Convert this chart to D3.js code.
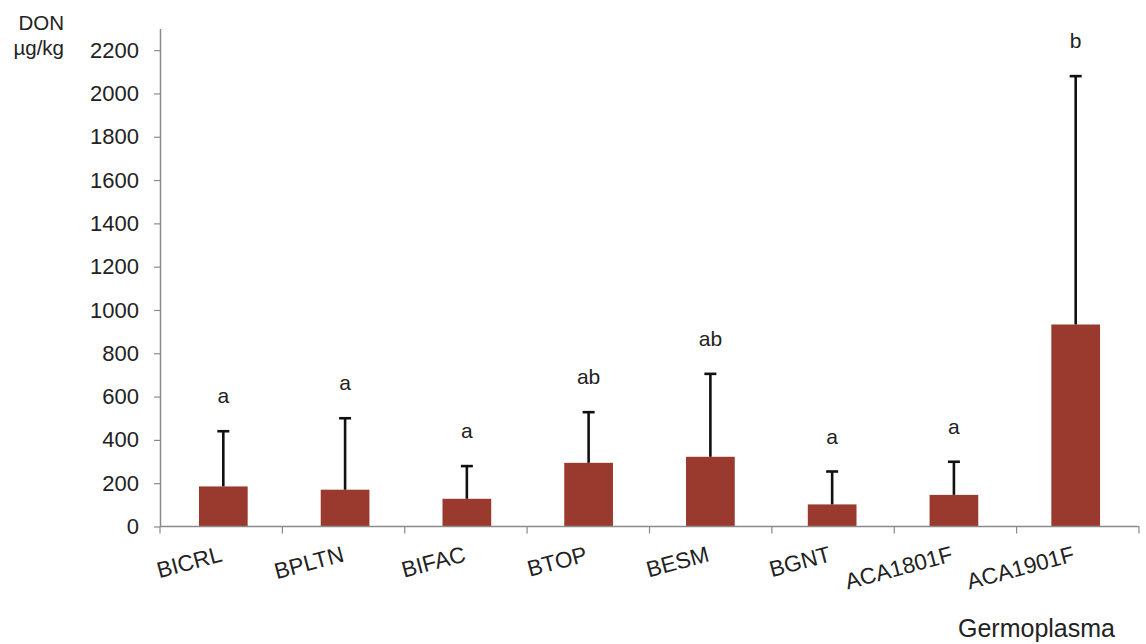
<!DOCTYPE html>
<html>
<head>
<meta charset="utf-8">
<script src="https://cdn.jsdelivr.net/npm/d3@7/dist/d3.min.js"></script>
<style>
  html, body { margin: 0; padding: 0; background: #fff; }
  svg text { font-family: "Liberation Sans", Arial, sans-serif; fill: #222; }
</style>
</head>
<body>
<svg id="chart" width="1146" height="644"></svg>
<script>
// DON content per germplasm line: mean, standard deviation and significance group
const categories = ["BICRL", "BPLTN", "BIFAC", "BTOP", "BESM", "BGNT", "ACA1801F", "ACA1901F"];
const means = [185, 170, 128, 294, 322, 102, 146, 933];
const deviations = [255, 330, 151, 234, 383, 152, 153, 1147];
const groups = ["a", "a", "a", "ab", "ab", "a", "a", "b"];
const yTicks = [0, 200, 400, 600, 800, 1000, 1200, 1400, 1600, 1800, 2000, 2200];

const svg = d3.select("#chart");
const x0 = 160, x1 = 1139, yBase = 526.5;
const fontSize = 22;

const x = d3.scaleBand().domain(categories).range([x0, x1]).paddingInner(0.6).paddingOuter(0.32);
const y = d3.scaleLinear().domain([0, 2300]).range([yBase, 28.5]);

const axisColor = "#8a8a8a";

// Y axis
const yAxis = svg.append("g").attr("transform", `translate(${x0},0)`)
  .call(d3.axisLeft(y).tickValues(yTicks).tickFormat(d3.format("d"))
    .tickSize(6).tickPadding(15).tickSizeOuter(0));
yAxis.select(".domain").attr("stroke", axisColor).attr("stroke-width", 1.5);
yAxis.selectAll(".tick line").attr("stroke", axisColor).attr("stroke-width", 1.2);
yAxis.selectAll(".tick text").attr("font-size", fontSize).attr("fill", "#222")
  .attr("font-family", "'Liberation Sans', Arial, sans-serif");

// Bars
svg.append("g").selectAll("rect").data(categories).join("rect")
  .attr("x", d => x(d))
  .attr("width", x.bandwidth())
  .attr("y", (d, i) => y(means[i]))
  .attr("height", (d, i) => y(0) - y(means[i]))
  .attr("fill", "#9a3a2e");

// Upper error bars
const eb = svg.append("g").attr("stroke", "#111").attr("stroke-width", 2.6);
categories.forEach((c, i) => {
  const cx = x(c) + x.bandwidth() / 2;
  const top = y(means[i] + deviations[i]);
  eb.append("line").attr("x1", cx).attr("x2", cx).attr("y1", y(means[i])).attr("y2", top);
  eb.append("line").attr("x1", cx - 6).attr("x2", cx + 6).attr("y1", top).attr("y2", top);
});

// Significance letters above the error bars
svg.append("g").selectAll("text").data(categories).join("text")
  .attr("x", d => x(d) + x.bandwidth() / 2)
  .attr("y", (d, i) => y(means[i] + deviations[i]) - 28)
  .attr("text-anchor", "middle")
  .attr("font-size", fontSize - 1)
  .text((d, i) => groups[i]);

// X axis with ticks at category boundaries
const xAxisG = svg.append("g");
xAxisG.append("line").attr("x1", x0).attr("x2", x1).attr("y1", yBase).attr("y2", yBase)
  .attr("stroke", axisColor).attr("stroke-width", 1.5);
const edges = d3.range(categories.length + 1).map(i => x0 + i * (x1 - x0) / categories.length);
xAxisG.selectAll("line.tk").data(edges).join("line").attr("class", "tk")
  .attr("x1", d => d).attr("x2", d => d).attr("y1", yBase).attr("y2", yBase + 7)
  .attr("stroke", axisColor).attr("stroke-width", 1.2);

// Rotated category labels
svg.append("g").selectAll("text").data(categories).join("text")
  .attr("transform", d => `translate(${x(d) + x.bandwidth() / 2},561) rotate(-15)`)
  .attr("text-anchor", "end")
  .attr("font-size", fontSize + 0.5)
  .text(d => d);

// Axis titles
svg.append("text").attr("x", 64).attr("y", 30).attr("text-anchor", "end").attr("font-size", 20.5).text("DON");
svg.append("text").attr("x", 64).attr("y", 55).attr("text-anchor", "end").attr("font-size", 20.5).text("µg/kg");
svg.append("text").attr("x", 1115).attr("y", 637).attr("text-anchor", "end").attr("font-size", 25).text("Germoplasma");
</script>
</body>
</html>
